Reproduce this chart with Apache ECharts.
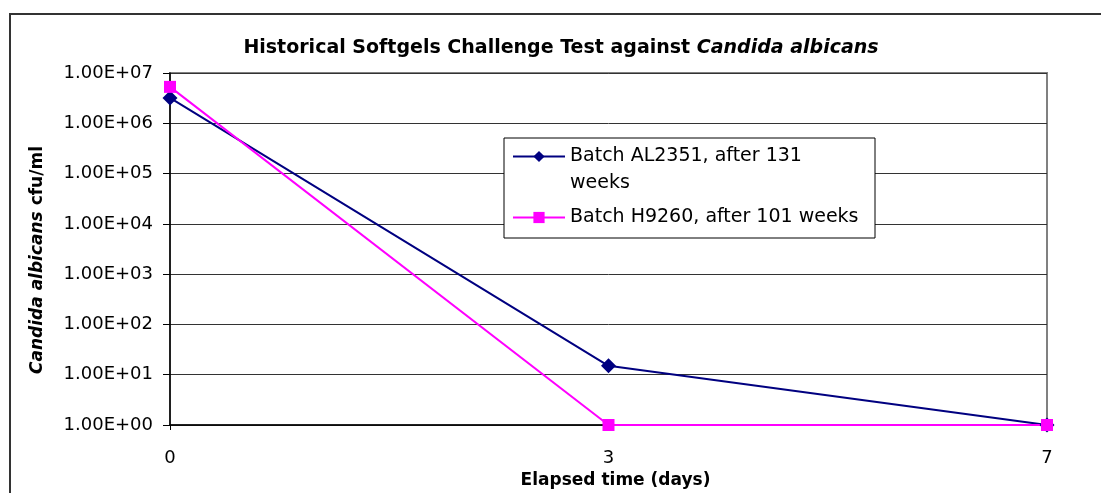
<!DOCTYPE html>
<html>
<head>
<meta charset="utf-8">
<script src="https://cdn.jsdelivr.net/npm/echarts@6/dist/echarts.min.js"></script>
<style>
  html, body { margin: 0; padding: 0; background: #fff; }
  #chart { width: 1101px; height: 493px; }
</style>
</head>
<body>
<div id="chart"></div>
<script>
// elapsed time categories (days)
const days = ['0', '3', '7'];
// cfu/ml counts
const batchAL2351 = [3.2e6, 15, 1];
const batchH9260 = [5.3e6, 1, 1];
const seriesNames = ['Batch AL2351, after 131 weeks', 'Batch H9260, after 101 weeks'];
const yTickLabels = ['1.00E+00', '1.00E+01', '1.00E+02', '1.00E+03', '1.00E+04', '1.00E+05', '1.00E+06', '1.00E+07'];

const chart = echarts.init(document.getElementById('chart'));
const font = '"DejaVu Sans", Arial, sans-serif';
const legendLine = 27;

const option = {
  backgroundColor: '#fff',
  animation: false,
  title: {
    text: '{b|Historical Softgels Challenge Test against }{i|Candida albicans}',
    left: 556,
    top: 34,
    textAlign: 'center',
    textStyle: {
      rich: {
        b: { fontFamily: font, fontSize: 19, fontWeight: 'bold', color: '#000' },
        i: { fontFamily: font, fontSize: 19, fontWeight: 'bold', fontStyle: 'italic', color: '#000' }
      }
    }
  },
  grid: {
    left: 170,
    right: 54,
    top: 73,
    bottom: 68,
    outerBoundsMode: 'none',
    show: true,
    borderColor: '#808080',
    borderWidth: 2
  },
  legend: {
    orient: 'vertical',
    left: 507,
    top: 111,
    z: 6,
    itemWidth: 52,
    itemHeight: 14,
    itemGap: 7,
    data: seriesNames,
    // blank first line keeps the symbol level with the first text line
    formatter: function (name) {
      return name === seriesNames[0] ? ' \nBatch AL2351, after 131\nweeks' : name;
    },
    textStyle: {
      fontFamily: font,
      fontSize: 19,
      color: '#000',
      lineHeight: legendLine
    }
  },
  graphic: [
    {
      type: 'rect',
      z: 5,
      shape: { x: 504, y: 138, width: 371, height: 100 },
      style: { fill: '#fff', stroke: '#000', lineWidth: 1 }
    },
    {
      type: 'rect',
      z: 0,
      silent: true,
      shape: { x: 10, y: 14, width: 1200, height: 600 },
      style: { fill: 'none', stroke: '#333', lineWidth: 2 }
    }
  ],
  xAxis: {
    type: 'category',
    data: days,
    boundaryGap: false,
    name: 'Elapsed time (days)',
    nameLocation: 'middle',
    nameGap: 47,
    nameTextStyle: { fontFamily: font, fontSize: 17, fontWeight: 'bold', color: '#000', padding: [0, 0, 0, 14] },
    axisLine: { lineStyle: { color: '#000', width: 1.5 } },
    axisTick: { show: true, length: 5, lineStyle: { color: '#000' } },
    axisLabel: { fontFamily: font, fontSize: 18, color: '#000', margin: 24 },
    splitLine: { show: false }
  },
  yAxis: {
    type: 'log',
    logBase: 10,
    min: 1,
    max: 1e7,
    name: '{i|Candida albicans}{b| cfu/ml}',
    nameLocation: 'middle',
    nameRotate: 90,
    nameGap: 124,
    nameTextStyle: {
      padding: [0, 22, 0, 0],
      rich: {
        i: { fontFamily: font, fontSize: 17, fontWeight: 'bold', fontStyle: 'italic', color: '#000' },
        b: { fontFamily: font, fontSize: 17, fontWeight: 'bold', color: '#000' }
      }
    },
    axisLine: { show: true, lineStyle: { color: '#000', width: 1.5 } },
    axisTick: { show: true, length: 7, lineStyle: { color: '#000' } },
    axisLabel: {
      fontFamily: font,
      fontSize: 18,
      color: '#000',
      margin: 17,
      formatter: function (v) {
        return yTickLabels[Math.round(Math.log10(v))];
      }
    },
    splitLine: { show: true, lineStyle: { color: '#333', width: 1 } }
  },
  series: [
    {
      name: seriesNames[0],
      type: 'line',
      data: batchAL2351,
      symbol: 'diamond',
      symbolSize: 15,
      lineStyle: { color: '#000080', width: 2 },
      itemStyle: { color: '#000080' }
    },
    {
      name: seriesNames[1],
      type: 'line',
      data: batchH9260,
      symbol: 'rect',
      symbolSize: 12,
      lineStyle: { color: '#ff00ff', width: 2 },
      itemStyle: { color: '#ff00ff' }
    }
  ]
};

chart.setOption(option);
</script>
</body>
</html>
